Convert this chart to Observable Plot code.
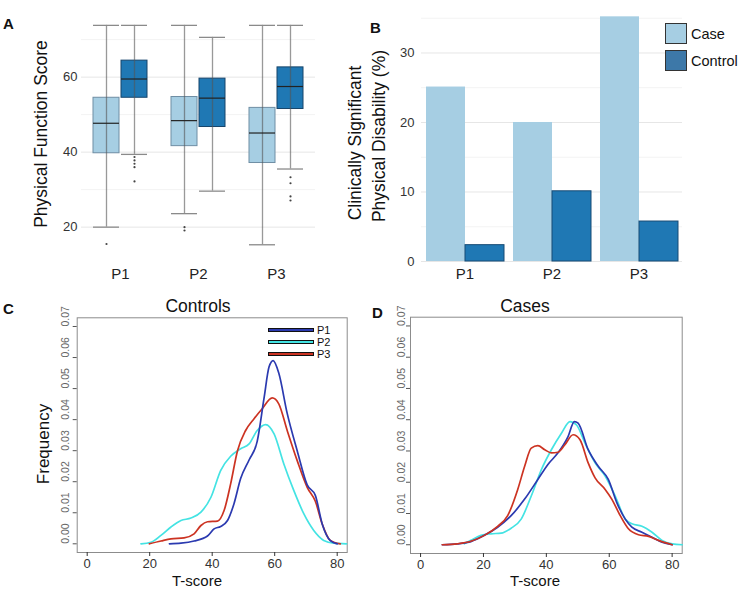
<!DOCTYPE html>
<html><head><meta charset="utf-8">
<script src="https://cdn.jsdelivr.net/npm/d3@7"></script>
<script src="https://cdn.jsdelivr.net/npm/@observablehq/plot@0.6"></script>
<style>
html,body{margin:0;padding:0;background:#fff;overflow:hidden}
#wrap{position:relative;width:739px;height:589px;background:#fff;font-family:"Liberation Sans",Arial,sans-serif;color:#111}
.layer{position:absolute;left:0;top:0}
.layer svg{display:block}
.t{position:absolute;white-space:nowrap;line-height:1}
.c{transform:translate(-50%,-50%)}
.r{transform:translate(-50%,-50%) rotate(-90deg)}
.l{transform:translate(0,-50%)}
.sw{position:absolute;box-sizing:border-box}
</style></head><body><div id="wrap"></div><script>
// ---------- data ----------
const periods = ["P1", "P2", "P3"];
const groups = ["Case", "Control"];

// Panel A: box plot summaries (Physical Function Score)
const boxPeriod   = ["P1", "P1", "P2", "P2", "P3", "P3"];
const boxGroup    = ["Case", "Control", "Case", "Control", "Case", "Control"];
const whiskerLow  = [20.0, 39.4, 23.6, 29.6, 15.3, 35.5];
const boxQ1       = [39.7, 54.5, 41.6, 46.7, 37.1, 51.5];
const boxMedian   = [47.7, 59.5, 48.4, 54.4, 45.1, 57.5];
const boxQ3       = [54.5, 64.4, 54.7, 59.6, 51.8, 62.6];
const whiskerHigh = [73.8, 73.8, 73.8, 70.6, 73.8, 73.8];
const outPeriod = ["P1", "P1", "P1", "P1", "P1", "P1", "P2", "P2", "P3", "P3", "P3", "P3"];
const outGroup  = ["Case", "Control", "Control", "Control", "Control", "Control", "Case", "Case", "Control", "Control", "Control", "Control"];
const outValue  = [15.5, 38.7, 37.8, 36.9, 36.0, 32.2, 20.0, 19.1, 33.3, 31.7, 28.2, 27.1];
const scoreTicks = [20, 40, 60];
const scoreMinor = [30, 50, 70];

// Panel B: % clinically significant physical disability
const barCase    = [25.1, 20.0, 35.2];
const barControl = [2.35, 10.1, 5.75];
const pctTicks = [0, 10, 20, 30];
const pctMinor = [5, 15, 25, 35];

// Panels C/D: density curves [T-score, frequency]
const tTicks = [0, 20, 40, 60, 80];
const freqTicks = [0, 0.01, 0.02, 0.03, 0.04, 0.05, 0.06, 0.07];
const ctrlP1 = [[26.3,0],[30,0.0002],[34.2,0.0009],[38.5,0.0025],[40.6,0.0048],[42.7,0.0056],[44.9,0.0075],[47,0.013],[49.1,0.021],[51.8,0.027],[54.4,0.033],[56.6,0.047],[58.2,0.057],[59.5,0.059],[61.3,0.055],[64,0.042],[67.2,0.030],[70.4,0.019],[73,0.0156],[75.2,0.0064],[77.8,0.001],[80,0]];
const ctrlP2 = [[17.2,0],[20.4,0.0005],[23.6,0.0027],[26.8,0.0054],[30,0.0075],[33.2,0.0083],[36.4,0.0102],[39.6,0.015],[42.7,0.0236],[45.9,0.0282],[49.1,0.0306],[51.8,0.0322],[54.4,0.0365],[57.1,0.0384],[59.8,0.0354],[62.9,0.0258],[66.1,0.0172],[69.3,0.0097],[72.5,0.0043],[75.7,0.0011],[78.9,0.0002],[83,0]];
const ctrlP3 = [[19.9,0],[23.6,0.0009],[26.8,0.0016],[31,0.0019],[34.2,0.0032],[36.4,0.0059],[38.5,0.0071],[41.7,0.0073],[43.8,0.0107],[45.9,0.0193],[48.1,0.030],[50.7,0.0365],[53.4,0.0403],[56,0.0435],[59.2,0.047],[61.3,0.0451],[64,0.0365],[67.2,0.0268],[70.4,0.0182],[73,0.0137],[75.2,0.0064],[77.8,0.0011],[81,0]];
const caseP1 = [[6.9,0],[11.7,0.0003],[16,0.001],[20.3,0.003],[24.5,0.0056],[28.8,0.0093],[33.1,0.0146],[37.3,0.0209],[40.5,0.0257],[43.7,0.0294],[46.9,0.0346],[48.9,0.0394],[50.1,0.0389],[53.3,0.0304],[56.5,0.0251],[59.7,0.0209],[62.4,0.0135],[65.1,0.0082],[67.2,0.0056],[70.4,0.004],[73.6,0.0024],[76.8,0.0008],[80,0]];
const caseP2 = [[13.9,0.0003],[16,0.0014],[19.2,0.003],[22.4,0.0035],[25.6,0.0037],[28.8,0.0053],[32,0.0082],[35.2,0.0156],[38.4,0.024],[41.6,0.0304],[44.8,0.0357],[47.5,0.0394],[49.6,0.0383],[52.3,0.0325],[55.5,0.0262],[58.7,0.022],[61.9,0.0156],[65.1,0.0082],[67.2,0.0067],[70.4,0.0059],[73.6,0.004],[76.8,0.0014],[80,0.0003],[83.2,0]];
const caseP3 = [[6.9,0],[11.7,0.0003],[16,0.0011],[20.3,0.003],[24.5,0.0059],[27.7,0.0093],[30.9,0.0177],[33.1,0.0251],[35.2,0.0309],[37.3,0.0317],[39.5,0.0304],[41.6,0.0294],[43.7,0.0296],[45.9,0.032],[48.5,0.0352],[50.7,0.0336],[53.3,0.0262],[55.5,0.0214],[58.7,0.0177],[60.8,0.0146],[63.5,0.0093],[66.1,0.0051],[69.3,0.0032],[72.5,0.0027],[75.7,0.0014],[80,0]];

// ---------- styling ----------
const FONT = "Liberation Sans, Arial, sans-serif";
const caseFill = "#a6cee3", ctrlFill = "#1f78b4";
const lineColors = {P1: "#2b3ab0", P2: "#44e3e3", P3: "#cc3322"};

const wrap = document.getElementById("wrap");
function layer(svg) { const d = document.createElement("div"); d.className = "layer"; d.appendChild(svg); wrap.appendChild(d); }
function txt(s, x, y, cls, css) { const d = document.createElement("div"); d.className = "t " + cls; d.textContent = s; d.style.left = x + "px"; d.style.top = y + "px"; Object.assign(d.style, css || {}); wrap.appendChild(d); return d; }

// ---------- Panel A ----------
const boxRows = boxPeriod.map((p, i) => ({period: p, group: boxGroup[i], low: whiskerLow[i], q1: boxQ1[i], med: boxMedian[i], q3: boxQ3[i], high: whiskerHigh[i]}));
const outRows = outPeriod.map((p, i) => ({period: p, group: outGroup[i], value: outValue[i]}));
const caseBoxes = boxRows.filter(d => d.group === "Case");
const ctrlBoxes = boxRows.filter(d => d.group === "Control");

layer(Plot.plot({
  width: 739, height: 589,
  marginLeft: 80, marginRight: 423.5, marginTop: 14, marginBottom: 334,
  style: {background: "transparent", fontFamily: FONT, overflow: "visible"},
  fx: {domain: periods, paddingInner: 0, paddingOuter: 0},
  x: {domain: groups, paddingInner: 0.083, paddingOuter: 0.395, axis: null},
  y: {domain: [12.44, 76.7]},
  marks: [
    Plot.ruleY(scoreMinor, {stroke: "#f3f3f3"}),
    Plot.ruleY(scoreTicks, {stroke: "#e6e6e6"}),
    Plot.ruleX(periods, {fx: d => d, stroke: "#ebebeb"}),
    Plot.axisY({ticks: scoreTicks, tickSize: 0, tickPadding: 4, fontSize: 13, color: "#333", label: null}),
    Plot.axisFx({anchor: "bottom", tickSize: 0, tickPadding: 13, fontSize: 15, color: "#222", label: null}),
    Plot.barY(caseBoxes, {fx: "period", x: "group", y1: "q1", y2: "q3", fill: caseFill, stroke: "#6f8ea4", strokeWidth: 1}),
    Plot.barY(ctrlBoxes, {fx: "period", x: "group", y1: "q1", y2: "q3", fill: ctrlFill, stroke: "#17456b", strokeWidth: 1}),
    Plot.ruleX(boxRows, {fx: "period", x: "group", y1: "low", y2: "high", stroke: "#555", strokeOpacity: 0.6, strokeWidth: 1.3}),
    Plot.tickY(boxRows, {fx: "period", x: "group", y: "low", stroke: "#8a8a8a", strokeWidth: 1.3}),
    Plot.tickY(boxRows, {fx: "period", x: "group", y: "high", stroke: "#8a8a8a", strokeWidth: 1.3}),
    Plot.tickY(boxRows, {fx: "period", x: "group", y: "med", stroke: "#222", strokeWidth: 1.2}),
    Plot.dot(outRows, {fx: "period", x: "group", y: "value", r: 1.1, fill: "#444", stroke: "none"})
  ]
}));

// ---------- Panel B ----------
const barRows = periods.flatMap((p, i) => [{period: p, group: "Case", value: barCase[i]}, {period: p, group: "Control", value: barControl[i]}]);
layer(Plot.plot({
  width: 739, height: 589,
  marginLeft: 420, marginRight: 56.5, marginTop: 7.3, marginBottom: 328,
  style: {background: "transparent", fontFamily: FONT, overflow: "visible"},
  fx: {domain: periods, paddingInner: 0, paddingOuter: 0},
  x: {domain: groups, paddingInner: 0, paddingOuter: 0.11, axis: null},
  y: {domain: [0, 36.5]},
  marks: [
    Plot.ruleY(pctMinor, {stroke: "#f3f3f3"}),
    Plot.ruleY(pctTicks, {stroke: "#e6e6e6"}),
    Plot.ruleX(periods, {fx: d => d, stroke: "#ebebeb"}),
    Plot.axisY({ticks: pctTicks, tickSize: 0, tickPadding: 7, fontSize: 13, color: "#333", label: null}),
    Plot.axisFx({anchor: "bottom", tickSize: 0, tickPadding: 7, fontSize: 15, color: "#222", label: null}),
    Plot.barY(barRows.filter(d => d.group === "Case"), {fx: "period", x: "group", y: "value", fill: caseFill}),
    Plot.barY(barRows.filter(d => d.group === "Control"), {fx: "period", x: "group", y: "value", fill: ctrlFill, stroke: "#164a74", strokeWidth: 1})
  ]
}));

// ---------- Panels C & D ----------
function rows(list) { return list.flatMap(([s, pts]) => pts.map(([x, y]) => ({series: s, x, y}))); }
const ctrlRows = rows([["P2", ctrlP2], ["P3", ctrlP3], ["P1", ctrlP1]]);
const caseRows = rows([["P2", caseP2], ["P1", caseP1], ["P3", caseP3]]);

function density(data, ml, mr, mt, mb, labDx) {
  return Plot.plot({
    width: 739, height: 589,
    marginLeft: ml, marginRight: mr, marginTop: mt, marginBottom: mb,
    style: {background: "transparent", fontFamily: FONT, overflow: "visible"},
    x: {domain: [-3.2, 83.2]},
    y: {domain: [-0.0028, 0.0728]},
    color: {domain: periods, range: periods.map(p => lineColors[p])},
    marks: [
      Plot.frame({stroke: "#8c8c8c"}),
      Plot.axisX({ticks: tTicks, tickSize: 4, tickPadding: 2, fontSize: 13, color: "#333", label: null}),
      Plot.axisY({ticks: freqTicks, tickSize: 4, tickFormat: () => "", color: "#555", label: null}),
      Plot.text(freqTicks, {y: d => d, text: d => d.toFixed(2), frameAnchor: "left", rotate: -90, dx: labDx, fontSize: 10.5, fill: "#666"}),
      Plot.line(data, {x: "x", y: "y", z: "series", stroke: "series", curve: "monotone-x", strokeWidth: 1.7})
    ]
  });
}
layer(density(ctrlRows, 76.7, 392.3, 317.3, 37, -12));
layer(density(caseRows, 410, 57.3, 316.7, 36, -9));

// ---------- text & legends ----------
const bold = {fontWeight: "bold", fontSize: "15px"};
txt("A", 3, 16, "", bold);
txt("B", 370, 20, "", bold);
txt("C", 3, 301, "", bold);
txt("D", 372, 305, "", bold);
txt("Physical Function Score", 42, 134, "r", {fontSize: "17.5px"});
txt("Clinically Significant", 356, 143, "r", {fontSize: "17.5px"});
txt("Physical Disability (%)", 380, 136, "r", {fontSize: "17.5px"});
txt("Controls", 198, 307, "c", {fontSize: "17.5px"});
txt("Cases", 525, 307, "c", {fontSize: "17.5px"});
txt("T-score", 197, 580, "c", {fontSize: "15px"});
txt("T-score", 535, 580, "c", {fontSize: "15px"});
txt("Frequency", 43, 444, "r", {fontSize: "17px"});

// legend B
const legB = [["Case", caseFill, 23], ["Control", "#3d78a8", 50]];
legB.forEach(([lab, col, top]) => {
  const s = document.createElement("div"); s.className = "sw";
  Object.assign(s.style, {left: "665px", top: top + "px", width: "22px", height: "21px", background: col, border: "1px solid #333"});
  wrap.appendChild(s);
  txt(lab, 691, top + 11, "l", {fontSize: "14.5px"});
});
// legend C
periods.forEach((p, i) => {
  const top = 328.3 + i * 11.6;
  const s = document.createElement("div"); s.className = "sw";
  Object.assign(s.style, {left: "268px", top: top + "px", width: "46px", height: "4px", background: lineColors[p], border: "1px solid #111"});
  wrap.appendChild(s);
  txt(p, 317, top + 2, "l", {fontSize: "11px", lineHeight: "10px"});
});
</script></body></html>
